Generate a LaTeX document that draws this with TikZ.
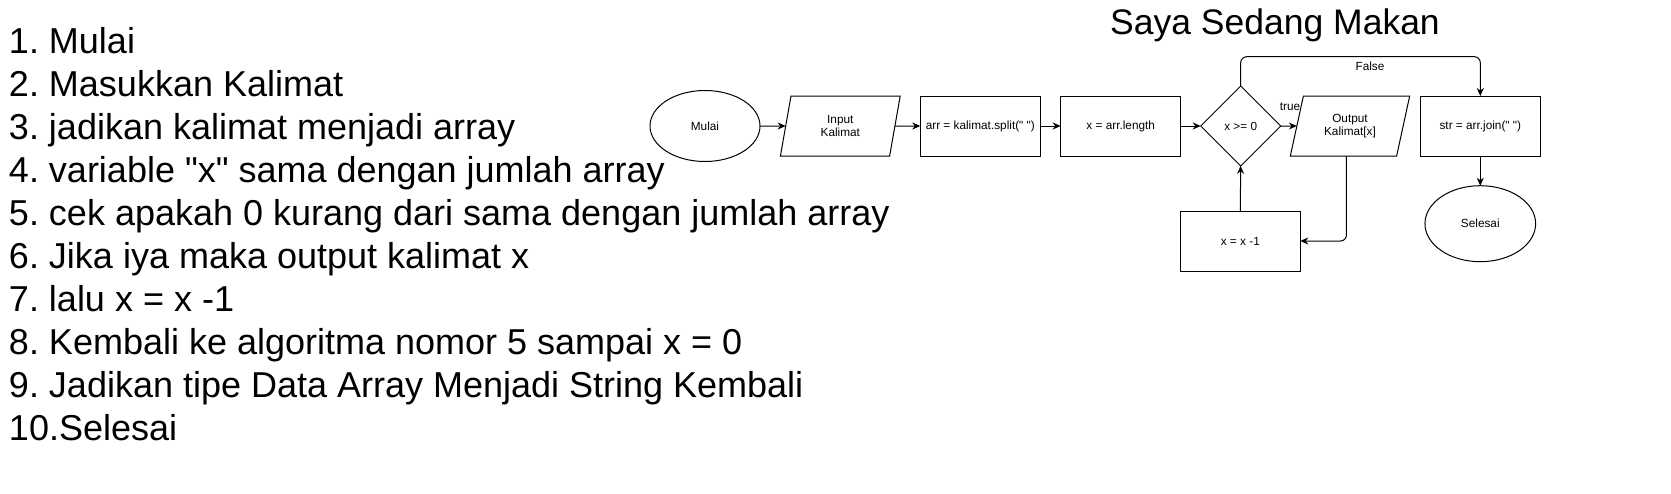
\documentclass[tikz,border=0pt]{standalone}
\usepackage{fontspec}
\setmainfont{Liberation Sans}
\newfontfamily\plainlib{Liberation Sans}
\usetikzlibrary{shapes.geometric,arrows.meta,calc}
\newcommand\dq{{\plainlib\char34\relax}}
\begin{document}
\frenchspacing
\begin{tikzpicture}[x=1pt,y=-1pt,
  every node/.style={inner sep=0pt, outer sep=0pt},
  listtext/.style={anchor=base west, font=\fontsize{36}{43}\selectfont},
  small/.style={font=\fontsize{11.8}{13.5}\selectfont, align=center},
  proc/.style={small, draw, line width=1pt, minimum width=120, minimum height=60},
  term/.style={small, draw, ellipse, line width=1pt},
  io/.style={small, draw, trapezium, trapezium stretches=true, line width=1pt, minimum height=60, minimum width=120},
  dec/.style={small, draw, diamond, line width=1pt, minimum width=80, minimum height=80},
  arr/.style={line width=1pt, -{Stealth[length=8pt,width=7pt]}, rounded corners=6pt},
  lbl/.style={small}
]
\useasboundingbox (0,0) rectangle (1671,493);

% list
\node[listtext] (l1) at (9,53.5) {1. Mulai};
\node[listtext] (l2) at (9,96.4) {2. Masukkan Kalimat};
\node[listtext] (l3) at (9,139.4) {3. jadikan kalimat menjadi array};
\node[listtext] (l4) at (9,182.3) {4. variable \dq x\dq{} sama dengan jumlah array};
\node[listtext] (l5) at (9,225.2) {5. cek apakah 0 kurang dari sama dengan jumlah array};
\node[listtext] (l6) at (9,268.3) {6. Jika iya maka output kalimat x};
\node[listtext] (l7) at (9,311.4) {7. lalu x = x -1};
\node[listtext] (l8) at (9,354.5) {8. Kembali ke algoritma nomor 5 sampai x = 0};
\node[listtext] (l9) at (9,397.6) {9. Jadikan tipe Data Array Menjadi String Kembali};
\node[listtext] (l10) at (9,440.7) {10.Selesai};

% title
\node[anchor=base, font=\fontsize{35.5}{43}\selectfont] (title) at (1275,34) {Saya Sedang Makan};

% flowchart
\node[term, minimum width=110, minimum height=71] (mulai) at (705,126) {Mulai};
\node[io, trapezium left angle=79, trapezium right angle=101] (input) at (840.3,126) {Input\\Kalimat};
\node[proc] (split) at (980.3,126) {arr = kalimat.split(\dq{} \dq)};
\node[proc] (len) at (1120.7,126) {x = arr.length};
\node[dec] (dia) at (1240.7,126) {x >= 0};
\node[io, trapezium left angle=73.3, trapezium right angle=106.7] (out) at (1350,126) {Output\\Kalimat[x]};
\node[proc] (str) at (1480.3,126) {str = arr.join(\dq{} \dq)};
\node[proc] (dec1) at (1240.3,241) {x = x -1};
\node[term, minimum width=110.7, minimum height=76] (sel) at (1480.3,223.7) {Selesai};

\draw[arr] (mulai) -- (input);
\draw[arr] (input) -- (split);
\draw[arr] (split) -- (len);
\draw[arr] (len) -- (dia);
\draw[arr] (dia) -- (out);
\node[lbl] (truelbl) at (1290,106.7) {true};
\draw[arr] (dia.north) -- ++(0,-29.3) -| (str.north);
\node[lbl] (falselbl) at (1370,66.7) {False};
\draw[arr] ([xshift=3pt]out.bottom side) |- (dec1.east);
\draw[arr] (dec1) -- (dia);
\draw[arr] (str) -- (sel);
\end{tikzpicture}
\end{document}
